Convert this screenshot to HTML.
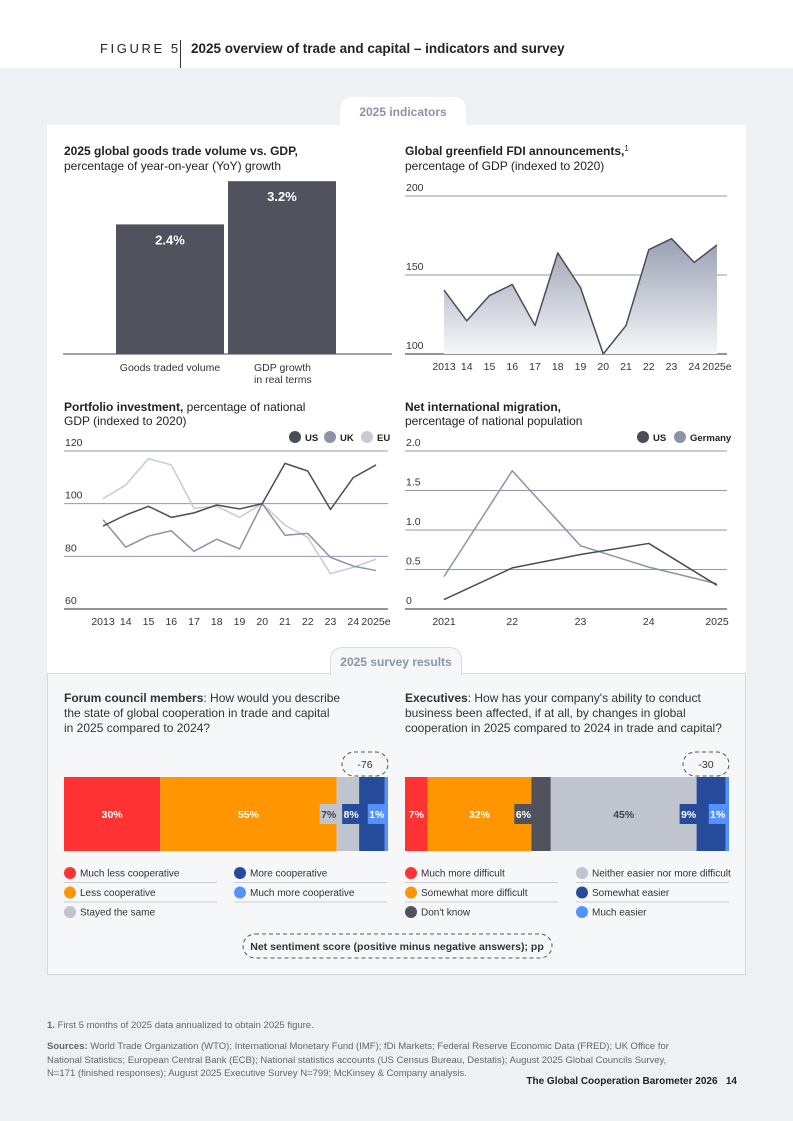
<!DOCTYPE html>
<html><head><meta charset="utf-8"><style>
*{margin:0;padding:0;box-sizing:border-box}
body{width:793px;height:1121px;position:relative;background:#eef0f4;font-family:"Liberation Sans",sans-serif;color:#222;overflow:hidden}
.abs{position:absolute}
svg text{font-family:"Liberation Sans",sans-serif}
</style></head><body>
<div class="abs" style="left:0;top:0;width:793px;height:68px;background:#fff"></div>
<div class="abs" style="left:100px;top:41px;font-size:13px;letter-spacing:2.6px;color:#222">FIGURE 5</div>
<div class="abs" style="left:180px;top:40px;width:1px;height:28px;background:#333"></div>
<div class="abs" style="left:191px;top:41px;font-size:13.5px;font-weight:bold">2025 overview of trade and capital – indicators and survey</div>

<div class="abs" style="left:47px;top:125px;width:699px;height:550px;background:#fff"></div>
<div class="abs" style="left:340px;top:97px;width:126px;height:30px;background:#fff;border-radius:12px 12px 0 0;text-align:center;font-size:12px;font-weight:bold;color:#8a93a8;line-height:30px">2025 indicators</div>

<div class="abs" style="left:64px;top:144px;font-size:12px;line-height:15px"><b>2025 global goods trade volume vs. GDP,</b><br>percentage of year-on-year (YoY) growth</div>
<div class="abs" style="left:405px;top:144px;font-size:12px;line-height:15px"><b>Global greenfield FDI announcements,</b><span style="font-size:8px;position:relative;top:-4px;line-height:0">1</span><br>percentage of GDP (indexed to 2020)</div>
<div class="abs" style="left:64px;top:400px;font-size:12px;line-height:14px"><b>Portfolio investment,</b> percentage of national<br>GDP (indexed to 2020)</div>
<div class="abs" style="left:405px;top:400px;font-size:12px;line-height:14px"><b>Net international migration,</b><br>percentage of national population</div>

<svg class="abs" style="left:0;top:0" width="793" height="1121" id="charts">
<defs><linearGradient id="ag" x1="0" y1="0" x2="0" y2="1"><stop offset="0" stop-color="#99a0b3"/><stop offset="1" stop-color="#f6f7f9"/></linearGradient></defs>
</svg>

<div class="abs" style="left:47px;top:673px;width:699px;height:302px;background:#f6f7f9;border:1px solid #d5d9e1"></div>
<div class="abs" style="left:330px;top:647px;width:132px;height:28px;background:#f6f7f9;border:1px solid #d5d9e1;border-bottom:none;border-radius:12px 12px 0 0;text-align:center;font-size:12px;font-weight:bold;color:#8a93a8;line-height:28px">2025 survey results</div>

<div class="abs" style="left:64px;top:691px;width:278px;font-size:12px;line-height:15px;color:#333"><b>Forum council members</b>: How would you describe the state of global cooperation in trade and capital in 2025 compared to 2024?</div>
<div class="abs" style="left:405px;top:691px;width:330px;font-size:12px;line-height:15px;color:#333"><b>Executives</b>: How has your company's ability to conduct business been affected, if at all, by changes in global cooperation in 2025 compared to 2024 in trade and capital?</div>

<svg class="abs" style="left:0;top:0" width="793" height="1121" id="survey"></svg>

<div class="abs" style="left:47px;top:1020px;font-size:9.5px;color:#666"><b>1.</b> First 5 months of 2025 data annualized to obtain 2025 figure.</div>
<div class="abs" style="left:47px;top:1040px;width:640px;font-size:9.5px;line-height:13.5px;color:#666"><b>Sources:</b> World Trade Organization (WTO); International Monetary Fund (IMF); fDi Markets; Federal Reserve Economic Data (FRED); UK Office for National Statistics; European Central Bank (ECB); National statistics accounts (US Census Bureau, Destatis); August 2025 Global Councils Survey, N=171 (finished responses); August 2025 Executive Survey N=799; McKinsey &amp; Company analysis.</div>
<div class="abs" style="right:56px;top:1076px;font-size:10px;font-weight:bold;color:#222">The Global Cooperation Barometer 2026&nbsp;&nbsp;&nbsp;14</div>

<script>
const NS='http://www.w3.org/2000/svg';
const tradeCats=['Goods traded volume','GDP growth'];
const tradeVals=[2.4,3.2];
const fdiYears=['2013','14','15','16','17','18','19','20','21','22','23','24','2025e'];
const fdiVals=[140.5,121,137,144,118,164,142,100,118,166,173,158,169];
const fdiTicks=[100,150,200];
const pfYears=['2013','14','15','16','17','18','19','20','21','22','23','24','2025e'];
const pfUS=[91.5,95.7,99,94.8,96.5,99.5,98,100,115.3,112.4,97.8,109.9,114.7];
const pfUK=[93.9,83.5,87.7,89.7,81.9,86.5,82.8,100,88,88.7,79.6,76.3,74.6];
const pfEU=[101.9,107.1,117.1,114.7,98.2,99,94.8,100,91.8,87.2,73.4,75.8,78.9];
const pfTicks=[60,80,100,120];
const migYears=['2021','22','23','24','2025'];
const migUS=[0.12,0.52,0.69,0.83,0.30];
const migDE=[0.41,1.75,0.80,0.53,0.32];
const migTicks=[0,0.5,1.0,1.5,2.0];
const councilCats=['Much less cooperative','Less cooperative','Stayed the same','More cooperative','Much more cooperative'];
const councilVals=[30,55,7,8,1];
const execCats=['Much more difficult','Somewhat more difficult',"Don't know",'Neither easier nor more difficult','Somewhat easier','Much easier'];
const execVals=[7,32,6,45,9,1];
const netScores=[-76,-30];

function mk(p,tag,a,txt){const e=document.createElementNS(NS,tag);for(const k in a)e.setAttribute(k,a[k]);if(txt!==undefined)e.textContent=txt;p.appendChild(e);return e;}
const C=document.getElementById('charts');

(function(){
  const base=354, per=54, x0=116, bw=108, gap=4;
  mk(C,'line',{x1:63,x2:392,y1:base,y2:base,stroke:'#444','stroke-width':1});
  tradeVals.forEach((v,i)=>{
    const x=x0+i*(bw+gap), h=v*per;
    const r=mk(C,'rect',{x:x,y:base-h,width:bw,height:h,fill:'#50535e'});
    
    
    mk(C,'text',{x:x+bw/2,y:base-h+20,'text-anchor':'middle','font-size':13,'font-weight':'bold',fill:'#fff'},v.toFixed(1)+'%');
  });
  mk(C,'text',{x:x0+bw/2,y:371,'text-anchor':'middle','font-size':10.5,fill:'#333'},tradeCats[0]);
  const t=mk(C,'text',{x:x0+bw+gap+26,y:371,'font-size':10.5,fill:'#333'},'');
  mk(t,'tspan',{x:x0+bw+gap+26,dy:0},tradeCats[1]);
  mk(t,'tspan',{x:x0+bw+gap+26,dy:12},'in real terms');
})();

function lineChart(o){
  const xs=i=>o.x0+i*o.step;
  const ys=v=>o.yb-(v-o.vmin)/(o.vmax-o.vmin)*(o.yb-o.yt);
  o.ticks.forEach((t,i)=>{
    const y=ys(t);
    if(i>0){const g=mk(C,'line',{x1:o.gx0,x2:o.gx1,y1:y,y2:y,stroke:'#8f97ad','stroke-width':1});
      }
    mk(C,'text',{x:o.gx0+1,y:y-5,'font-size':10.5,fill:'#333'},o.fmt?o.fmt(t):t);
  });
  mk(C,'line',{x1:o.gx0,x2:o.gx1,y1:o.yb,y2:o.yb,stroke:'#555','stroke-width':1.3});
  o.cats.forEach((c,i)=>mk(C,'text',{x:xs(i),y:o.yb+16,'text-anchor':'middle','font-size':10.5,fill:'#333'},c));
  o.series.forEach(s=>{
    const pts=s.vals.map((v,i)=>xs(i)+','+ys(v));
    if(s.area){
      const a=mk(C,'polygon',{points:xs(0)+','+o.yb+' '+pts.join(' ')+' '+xs(s.vals.length-1)+','+o.yb,fill:'url(#ag)'});
      
    }
    const l=mk(C,'polyline',{points:pts.join(' '),fill:'none',stroke:s.color,'stroke-width':1.5,'stroke-linejoin':'round'});
    
    
  });
}
lineChart({x0:444,step:22.75,yb:354,yt:196,vmin:100,vmax:200,gx0:405,gx1:727,ticks:fdiTicks,cats:fdiYears,
  series:[{vals:fdiVals,color:'#4a4d58',area:true,name:'fdi-line'}]});
lineChart({x0:103,step:22.75,yb:609,yt:451,vmin:60,vmax:120,gx0:64,gx1:388,ticks:pfTicks,cats:pfYears,
  series:[{vals:pfEU,color:'#c5cad3',name:'eu-line'},{vals:pfUK,color:'#8a93a8',name:'uk-line'},{vals:pfUS,color:'#4a4d58',name:'us-line'}]});
lineChart({x0:444,step:68.25,yb:609,yt:451,vmin:0,vmax:2,gx0:405,gx1:727,ticks:migTicks,cats:migYears,fmt:t=>t===0?'0':t.toFixed(1),
  series:[{vals:migDE,color:'#8a93a8',name:'germany-line'},{vals:migUS,color:'#4a4d58',name:'us-migration-line'}]});

function legend(items){items.forEach(it=>{
  const c=mk(C,'circle',{cx:it.x,cy:437,r:6,fill:it.c});
  
  mk(C,'text',{x:it.x+10,y:441,'font-size':9.5,'font-weight':'bold',fill:'#222'},it.t);
});}
legend([{x:295,c:'#4a4d58',t:'US'},{x:330,c:'#8a93a8',t:'UK'},{x:367,c:'#c5cad3',t:'EU'}]);
legend([{x:643,c:'#4a4d58',t:'US'},{x:680,c:'#8a93a8',t:'Germany'}]);

const S=document.getElementById('survey');
const councilColors=['#ff3333','#ff9500','#c0c4ce','#264b9b','#5592ff'];
const execColors=['#ff3333','#ff9500','#50535e','#c0c4ce','#264b9b','#5592ff'];
function stack(x0,w,vals,colors,score,name){
  const sum=vals.reduce((a,b)=>a+b,0);let x=x0;const y=777,h=74;
  vals.forEach((v,i)=>{
    const sw=v/sum*w;
    const r=mk(S,'rect',{x:x,y:y,width:sw,height:h,fill:colors[i]});
    
    
    const dark=colors[i]==='#c0c4ce';
    const tc=dark?'#444':'#fff';
    if(sw>=30||i===0){mk(S,'text',{x:x+sw/2,y:y+h/2+4,'text-anchor':'middle','font-size':10.5,'font-weight':'bold',fill:tc},v+'%');}
    else{const bx=x-17;mk(S,'rect',{x:bx,y:y+h/2-10,width:18,height:20,fill:colors[i]});
      mk(S,'text',{x:bx+9,y:y+h/2+4,'text-anchor':'middle','font-size':10.5,'font-weight':'bold',fill:tc},v+'%');}
    x+=sw;
  });
  const px=x0+w-46;
  const p=mk(S,'rect',{x:px,y:752,width:46,height:24,rx:12,fill:'none',stroke:'#555','stroke-dasharray':'4 3'});
  
  
  mk(S,'text',{x:px+23,y:768,'text-anchor':'middle','font-size':10.5,fill:'#333'},String(score));
}
stack(64,324,councilVals,councilColors,netScores[0],'council-bar');
stack(405,324,execVals,execColors,netScores[1],'executives-bar');

function legendCol(x,cats,colors,idx){
  cats.forEach((c,j)=>{
    const y=873+j*19.5;
    const d=mk(S,'circle',{cx:x+6,cy:y,r:6,fill:colors[idx[j]]});
    
    
    mk(S,'text',{x:x+16,y:y+3.5,'font-size':10,fill:'#333'},c);
    if(j<cats.length-1||cats.length<3)mk(S,'line',{x1:x,x2:x+153,y1:y+9.5,y2:y+9.5,stroke:'#c9cdd6','stroke-width':1});
  });
}
legendCol(64,councilCats.slice(0,3),councilColors,[0,1,2]);
legendCol(234,councilCats.slice(3),councilColors,[3,4]);
legendCol(405,execCats.slice(0,3),execColors,[0,1,2]);
legendCol(576,execCats.slice(3),execColors,[3,4,5]);
const lp=mk(S,'rect',{x:243,y:934,width:309,height:24,rx:12,fill:'none',stroke:'#555','stroke-dasharray':'4 3'});


mk(S,'text',{x:397,y:950,'text-anchor':'middle','font-size':10.5,'font-weight':'bold',fill:'#333'},'Net sentiment score (positive minus negative answers); pp');
</script>
</body></html>
